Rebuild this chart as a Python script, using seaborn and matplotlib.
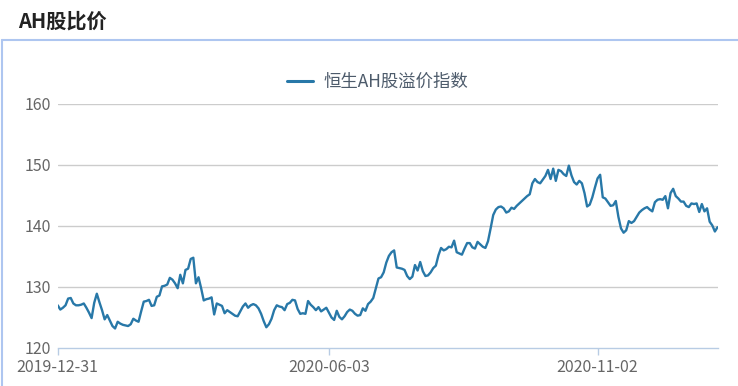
import numpy as np
import pandas as pd
import matplotlib
matplotlib.use("Agg")
import matplotlib.pyplot as plt
from matplotlib.lines import Line2D
import seaborn as sns

# ---------------- data ----------------
series_name = "恒生AH股溢价指数"
title = "AH股比价"
start_date = "2019-12-31"
end_date = "2021-01-07"
hk_holidays = ["2020-01-01", "2020-01-27", "2020-01-28", "2020-04-10", "2020-04-13",
               "2020-04-30", "2020-05-01", "2020-06-25", "2020-07-01", "2020-10-01",
               "2020-10-02", "2020-10-26", "2020-12-25", "2021-01-01"]
tick_dates = ["2019-12-31", "2020-06-03", "2020-11-02"]
y_ticks = [120, 130, 140, 150, 160]

values = [
    127.0, 126.3, 126.6, 127.0, 128.1, 128.2, 127.3, 127.0, 127.0, 127.1,
    127.3, 126.6, 125.8, 124.9, 127.4, 128.9, 127.5, 126.2, 124.7, 125.4,
    124.5, 123.6, 123.2, 124.3, 124.0, 123.8, 123.7, 123.6, 123.9, 124.8,
    124.5, 124.3, 126.0, 127.6, 127.7, 127.9, 126.9, 127.0, 128.4, 128.6,
    130.1, 130.2, 130.4, 131.5, 131.2, 130.6, 129.8, 132.0, 130.6, 132.8,
    133.0, 134.6, 134.8, 130.6, 131.6, 129.8, 127.8, 128.0, 128.1, 128.3,
    125.5, 127.3, 127.1, 126.9, 125.7, 126.2, 125.9, 125.6, 125.3, 125.2,
    126.0, 126.8, 127.3, 126.6, 127.0, 127.2, 127.0, 126.5, 125.6, 124.4,
    123.4, 123.9, 124.8, 126.2, 127.0, 126.8, 126.7, 126.2, 127.2, 127.4,
    127.9, 127.8, 126.4, 125.6, 125.7, 125.6, 127.7, 127.1, 126.7, 126.2,
    126.7, 126.0, 126.3, 126.6, 125.8, 125.0, 124.6, 126.1, 125.1, 124.7,
    125.2, 125.9, 126.3, 126.1, 125.6, 125.3, 125.4, 126.5, 126.1, 127.2,
    127.6, 128.2, 129.8, 131.4, 131.6, 132.4, 134.0, 135.1, 135.7, 136.0,
    133.2, 133.1, 133.0, 132.8, 131.8, 131.3, 131.7, 133.6, 132.7, 134.1,
    132.6, 131.8, 131.9, 132.4, 133.1, 133.5, 135.2, 136.4, 136.0, 136.2,
    136.6, 136.5, 137.6, 135.7, 135.5, 135.3, 136.3, 137.2, 137.2, 136.5,
    136.3, 137.4, 137.0, 136.6, 136.4, 137.5, 139.6, 141.8, 142.7, 143.1,
    143.2, 142.9, 142.2, 142.4, 143.0, 142.8, 143.3, 143.7, 144.1, 144.5,
    144.9, 145.2, 147.0, 147.7, 147.2, 147.0, 147.6, 148.2, 149.2, 147.7,
    149.4, 147.4, 149.2, 149.0, 148.5, 148.2, 149.9, 148.3, 147.2, 146.8,
    147.4, 147.0, 145.4, 143.2, 143.5, 144.7, 146.3, 147.8, 148.4, 144.7,
    144.5, 143.9, 143.3, 143.4, 144.1, 141.5, 139.6, 138.9, 139.3, 140.8,
    140.5, 140.8, 141.5, 142.2, 142.6, 142.9, 143.1, 142.7, 142.4, 143.9,
    144.3, 144.4, 144.3, 144.9, 142.9, 145.4, 146.1, 144.9, 144.5, 144.0,
    144.0, 143.3, 143.1, 143.7, 143.6, 143.7, 142.3, 143.6, 142.4, 142.9,
    140.7, 140.1, 139.1, 139.8,
]

# ---------------- build table ----------------
dates = pd.bdate_range(start_date, end_date)
dates = dates[~dates.isin(pd.to_datetime(hk_holidays))]
n = min(len(dates), len(values))
df = pd.DataFrame({"date": dates[:n], "value": values[:n]})
df["pos"] = np.arange(n)
df["series"] = series_name

# ---------------- style ----------------
sns.set_theme(style="white")
plt.rcParams["font.family"] = ["Noto Sans CJK SC", "DejaVu Sans"]
plt.rcParams["axes.unicode_minus"] = False

line_color = "#2878a8"
grid_color = "#cccccc"
axis_color = "#b8cce4"
text_color = "#666666"

fig = plt.figure(figsize=(7.38, 3.86), dpi=100)
ax = fig.add_axes([57.7 / 738, 38 / 386, (717.5 - 57.7) / 738, (348 - 104) / 386])

sns.lineplot(data=df, x="pos", y="value", hue="series", palette=[line_color],
             linewidth=1.7, ax=ax, legend=True)

ax.set_xlim(0, n - 1)
ax.set_ylim(120, 160)
ax.set_yticks(y_ticks)
ax.set_yticklabels([str(t) for t in y_ticks])

tick_pos = [int(df.index[df["date"] == pd.Timestamp(d)][0]) for d in tick_dates]
ax.set_xticks(tick_pos)
ax.set_xticklabels(tick_dates)
ax.set_xlabel("")
ax.set_ylabel("")

for t in y_ticks[1:]:
    ax.axhline(t, color=grid_color, linewidth=1.0, zorder=0)

for s in ["top", "right", "left"]:
    ax.spines[s].set_visible(False)
ax.spines["bottom"].set_color(axis_color)
ax.spines["bottom"].set_linewidth(1.0)

ax.tick_params(axis="y", length=0, pad=5, labelsize=11.5, labelcolor=text_color)
ax.tick_params(axis="x", direction="out", length=5, width=1.0, color=axis_color,
               pad=3, labelsize=11.5, labelcolor=text_color, bottom=True)

# legend above the plot
handles, labels = ax.get_legend_handles_labels()
ax.get_legend().remove()
leg = fig.legend([Line2D([0], [0], color=line_color, linewidth=2.2)], [series_name],
                 loc="center", bbox_to_anchor=(0.512, 0.788), frameon=False,
                 fontsize=12.5, handlelength=1.5, handletextpad=0.6)
for txt in leg.get_texts():
    txt.set_color("#4d5b6b")

# title and panel border
fig.text(18 / 738, 1 - 21 / 386, title, fontsize=14.5, fontweight="bold",
         color="#222222", ha="left", va="center")
fig.add_artist(Line2D([2 / 738, 1.0], [1 - 40 / 386, 1 - 40 / 386],
                      transform=fig.transFigure, color="#aec6f0", linewidth=1.5))
fig.add_artist(Line2D([2 / 738, 2 / 738], [0.0, 1 - 40 / 386],
                      transform=fig.transFigure, color="#aec6f0", linewidth=1.5))

fig.savefig("out.png", dpi=100)
